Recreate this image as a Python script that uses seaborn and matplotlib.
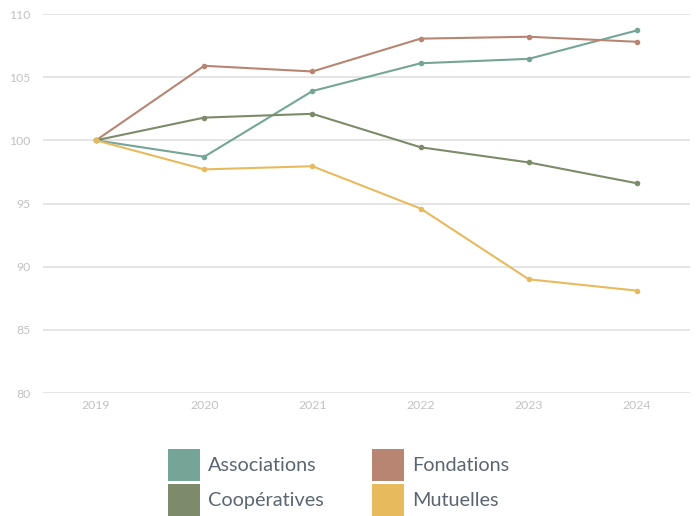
import matplotlib
matplotlib.use("Agg")
import matplotlib.pyplot as plt
from matplotlib.patches import Patch
import pandas as pd
import seaborn as sns

years = ["2019", "2020", "2021", "2022", "2023", "2024"]
associations = [100, 98.7, 103.9, 106.1, 106.45, 108.7]
fondations = [100, 105.9, 105.45, 108.05, 108.2, 107.8]
cooperatives = [100, 101.8, 102.1, 99.45, 98.25, 96.6]
mutuelles = [100, 97.7, 97.95, 94.6, 89.0, 88.1]

series = ["Associations", "Fondations", "Coopératives", "Mutuelles"]
colors = {"Associations": "#74a596", "Fondations": "#b78572",
          "Coopératives": "#7d8b6a", "Mutuelles": "#e8ba5e"}

df = pd.DataFrame({
    "year": years * 4,
    "x": list(range(len(years))) * 4,
    "value": associations + fondations + cooperatives + mutuelles,
    "group": [s for s in series for _ in years],
})

sns.set_theme(style="white")
plt.rcParams["font.family"] = ["Lato", "DejaVu Sans"]

fig = plt.figure(figsize=(6.99, 5.16), dpi=100)
ax = fig.add_axes([43 / 699, 1 - 393 / 516, 647 / 699, 379 / 516])

sns.lineplot(data=df, x="x", y="value", hue="group", palette=colors,
             marker="o", markersize=4, markeredgewidth=0, linewidth=1.5,
             legend=False, ax=ax)

ax.set_xlim(-0.49, 5.49)
ax.set_ylim(80, 110)
ax.set_xticks(range(len(years)))
ax.set_xticklabels(years)
ax.set_yticks(range(80, 111, 5))
ax.set_xlabel("")
ax.set_ylabel("")
for s in ax.spines.values():
    s.set_visible(False)
ax.yaxis.grid(True, color="#e3e3e3", linewidth=1.3)
ax.set_axisbelow(True)
ax.tick_params(axis="both", length=0, labelsize=8.8, colors="#c2c2c2")
ax.tick_params(axis="y", pad=9)
ax.tick_params(axis="x", pad=5)

order = ["Associations", "Coopératives", "Fondations", "Mutuelles"]
handles = [Patch(facecolor=colors[s], edgecolor="none", label=s) for s in order]
fig.legend(handles=handles, ncol=2, loc="lower center",
           bbox_to_anchor=(0.4843, 0.0), frameon=False,
           fontsize=14.3, labelcolor="#5b6670",
           handlelength=1.61, handleheight=2.1, handletextpad=0.4,
           labelspacing=0.15, columnspacing=2.45, borderaxespad=0.0,
           borderpad=0.0)

fig.savefig("out.png", dpi=100)
